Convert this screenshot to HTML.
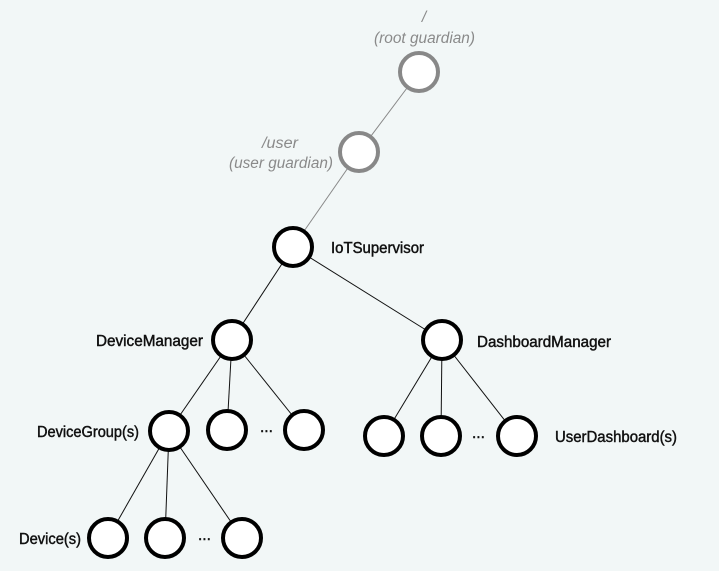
<!DOCTYPE html>
<html><head><meta charset="utf-8"><style>
html,body{margin:0;padding:0;background:#f2f7f7;}
svg{display:block}
text{font-family:"Liberation Sans",sans-serif;font-size:15.5px;font-weight:normal;fill:#111;stroke:#111;stroke-width:0.45}
.g{fill:#8a8a8a;stroke:none;font-style:italic;font-weight:normal;font-size:15.5px}
</style></head><body>
<svg width="719" height="571" viewBox="0 0 719 571">
<g stroke="#888" stroke-width="1">
<line x1="419" y1="72" x2="359" y2="152"/>
<line x1="359" y1="152" x2="293" y2="247"/>
</g>
<g stroke="#111" stroke-width="1">
<line x1="293" y1="247" x2="232" y2="340"/>
<line x1="293" y1="247" x2="442" y2="340"/>
<line x1="232" y1="340" x2="169" y2="431"/>
<line x1="232" y1="340" x2="227" y2="430"/>
<line x1="232" y1="340" x2="304" y2="430"/>
<line x1="442" y1="340" x2="384" y2="436"/>
<line x1="442" y1="340" x2="441" y2="436"/>
<line x1="442" y1="340" x2="517" y2="436"/>
<line x1="169" y1="431" x2="108" y2="538"/>
<line x1="169" y1="431" x2="165" y2="538"/>
<line x1="169" y1="431" x2="242" y2="538"/>
</g>
<g fill="#fff" stroke="#888" stroke-width="4">
<circle cx="419" cy="72" r="19"/>
<circle cx="359" cy="152" r="19"/>
</g>
<g fill="#fff" stroke="#000" stroke-width="4">
<circle cx="293" cy="247" r="19"/>
<circle cx="232" cy="340" r="19"/>
<circle cx="442" cy="340" r="19"/>
<circle cx="169" cy="431" r="19"/>
<circle cx="227" cy="430" r="19"/>
<circle cx="304" cy="430" r="19"/>
<circle cx="384" cy="436" r="19"/>
<circle cx="441" cy="436" r="19"/>
<circle cx="517" cy="436" r="19"/>
<circle cx="108" cy="538" r="19"/>
<circle cx="165" cy="538" r="19"/>
<circle cx="242" cy="538" r="19"/>
</g>
<text class="g" x="424" y="22" text-anchor="middle">/</text>
<text class="g" x="374" y="43" textLength="101" lengthAdjust="spacingAndGlyphs">(root guardian)</text>
<text class="g" x="262" y="148" textLength="36" lengthAdjust="spacingAndGlyphs">/user</text>
<text class="g" x="229" y="168" textLength="104" lengthAdjust="spacingAndGlyphs">(user guardian)</text>
<text x="331" y="253" textLength="93" lengthAdjust="spacingAndGlyphs">IoTSupervisor</text>
<text x="96" y="346" textLength="107" lengthAdjust="spacingAndGlyphs">DeviceManager</text>
<text x="477" y="347" textLength="134" lengthAdjust="spacingAndGlyphs">DashboardManager</text>
<text x="37" y="437" textLength="102" lengthAdjust="spacingAndGlyphs">DeviceGroup(s)</text>
<text x="555" y="442" textLength="122" lengthAdjust="spacingAndGlyphs">UserDashboard(s)</text>
<text x="19" y="544" textLength="62" lengthAdjust="spacingAndGlyphs">Device(s)</text>
<text x="260" y="432">...</text>
<text x="472" y="438">...</text>
<text x="198" y="540">...</text>
</svg>
</body></html>
